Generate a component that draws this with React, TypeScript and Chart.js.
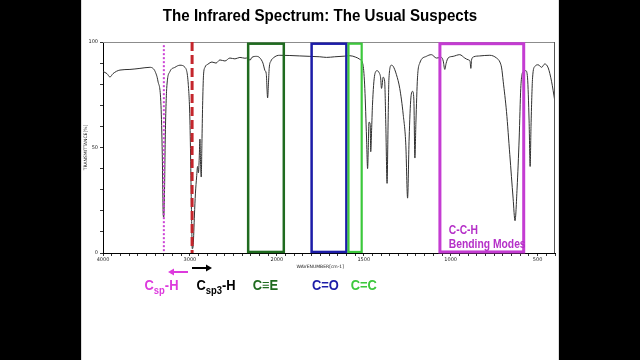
import React, { useEffect, useRef } from "react";
import { Chart, registerables } from "chart.js";
Chart.register(...registerables);

// Spectrum (wavenumber in cm-1, transmittance in %)
const WAVENUMBERS = [
  4000, 3954, 3920, 3885, 3805, 3690, 3575, 3460, 3425, 3400, 3368, 3333, 3318, 3307, 3301, 3292, 3284, 3267,
  3230, 3172, 3115, 3057, 3019, 3000, 2980, 2973, 2962, 2948, 2937, 2923, 2912, 2902, 2893, 2885, 2877, 2870,
  2862, 2854, 2844, 2827, 2792, 2746, 2700, 2655, 2597, 2540, 2482, 2425, 2367, 2333, 2310, 2287, 2233, 2196,
  2160, 2137, 2122, 2106, 2097, 2088, 2068, 2042, 2000, 1983, 1925, 1868, 1810, 1753, 1714, 1667, 1609, 1580,
  1546, 1523, 1504, 1494, 1484, 1478, 1474, 1470, 1463, 1460, 1455, 1450, 1437, 1423, 1412, 1403, 1398, 1395,
  1389, 1380, 1373, 1366, 1360, 1355, 1341, 1331, 1312, 1293, 1273, 1258, 1248, 1239, 1229, 1219, 1212, 1206,
  1200, 1191, 1178, 1140, 1111, 1082, 1053, 1043, 1034, 1026, 1015, 986, 948, 919, 900, 889, 884, 880, 867,
  833, 775, 736, 717, 707, 698, 679, 660, 641, 630, 618, 606, 597, 583, 568, 558, 549, 543, 538, 529, 516,
  497, 477, 459, 439, 420, 401,
];
const TRANSMITTANCE = [
  86, 85, 83.4, 85, 86.7, 87, 87.5, 88, 87.5, 86, 81.5, 70, 46.6, 18, 17, 30, 54, 78,
  86, 88, 89, 88, 80, 62.6, 15, 2, 4, 18, 28, 36, 41, 38, 45, 54, 42, 36,
  52, 70, 84, 88, 89.5, 90.5, 90, 91.5, 91, 92.4, 92, 92.7, 92.3, 92.5, 91.3, 92.7, 93.2, 92.5,
  90, 86.5, 85, 73.5, 80, 87.5, 91, 92.4, 93.5, 93.7, 93.6, 93.4, 93.2, 93, 92.7, 93, 93.3, 93.5,
  92.8, 91.8, 89, 78, 54.5, 40, 50, 62, 61, 48, 58, 70, 84.5, 86.4, 85.5, 83, 78, 79,
  83.3, 81.5, 60, 33, 62, 83, 89, 88.5, 84.5, 78, 65.5, 51, 26, 54.5, 73.5, 76.6, 73, 45,
  62, 83, 90, 93.2, 94, 92.4, 92.7, 91, 87, 90, 92.4, 93.2, 94, 92.4, 91.6, 91, 87.5, 91.5, 93,
  93.4, 93.7, 92.4, 90.5, 87.7, 81.4, 67, 46.6, 26, 15.3, 30.8, 54.5, 78, 86, 86.4, 83, 62.6, 41, 60, 83, 88.4,
  89.2, 88, 89.6, 87.7, 81.4, 72,
];

const X_TICK_LABELS = [4000, 3000, 2000, 1500, 1000, 500];
const Y_TICK_LABELS = [0, 50, 100];
const WN_START = 4000;
const WN_END = 400;

// Highlighted regions (wavenumber ranges)
const BOX_FROM = [2330, 1800, 1588, 1062];
const BOX_TO = [1960, 1600, 1512, 580];
const BOX_COLORS = ["#1f6b1f", "#1c1ca8", "#3cc83c", "#c43cd2"];
const BOX_WIDTHS = [2.5, 2.5, 2.2, 3];

// Vertical marker lines
const CSP_H_WN = 3300;
const CSP3_H_WN = 2975;

// Label anchors below the axis (wavenumber of label centre)
const LABEL_WN = [3327, 2700, 2131, 1721, 1500];
const LABEL_COLORS = ["#dd3add", "#000000", "#1f6b1f", "#1c1ca8", "#3cc83c"];

// Piecewise IR scale: 4000-2000 compressed by half
function toU(wn: number) {
  return wn >= 2000 ? (4000 - wn) / 2 : 1000 + (2000 - wn);
}
function fromU(u: number) {
  return u <= 1000 ? 4000 - 2 * u : 2000 - (u - 1000);
}

const SANS = "'Liberation Sans', Arial, sans-serif";
const SQUEEZE = 0.86;

function narrowText(ctx: CanvasRenderingContext2D, text: string, x: number, y: number, align: "left" | "center") {
  const w = ctx.measureText(text).width * SQUEEZE;
  const left = align === "center" ? x - w / 2 : x;
  ctx.save();
  ctx.translate(left, y);
  ctx.scale(SQUEEZE, 1);
  ctx.textAlign = "left";
  ctx.fillText(text, 0, 0);
  ctx.restore();
  return w;
}

const overlayPlugin = {
  id: "irOverlay",
  afterDatasetsDraw(chart: any) {
    const ctx: CanvasRenderingContext2D = chart.ctx;
    const xs = chart.scales.x;
    const ys = chart.scales.y;
    const ca = chart.chartArea;
    const px = (wn: number) => xs.getPixelForValue(toU(wn));
    const py = (t: number) => ys.getPixelForValue(t);
    ctx.save();
    ctx.textBaseline = "alphabetic";

    // frame top/right
    ctx.strokeStyle = "#8c8c8c";
    ctx.lineWidth = 1;
    ctx.setLineDash([]);
    ctx.beginPath();
    ctx.moveTo(ca.left, ca.top + 0.5);
    ctx.lineTo(ca.right, ca.top + 0.5);
    ctx.stroke();
    ctx.strokeStyle = "#555";
    ctx.beginPath();
    ctx.moveTo(ca.right - 0.5, ca.top);
    ctx.lineTo(ca.right - 0.5, ca.bottom);
    ctx.stroke();

    // boxes
    for (let i = 0; i < BOX_FROM.length; i++) {
      const x1 = px(BOX_FROM[i]);
      const x2 = px(BOX_TO[i]);
      const y1 = py(99.2);
      const y2 = py(0.5);
      ctx.strokeStyle = BOX_COLORS[i];
      ctx.lineWidth = BOX_WIDTHS[i];
      ctx.strokeRect(x1, y1, x2 - x1, y2 - y1);
    }

    // dotted magenta line
    ctx.strokeStyle = "#cc44d6";
    ctx.lineWidth = 2;
    ctx.setLineDash([2, 2]);
    ctx.beginPath();
    ctx.moveTo(px(CSP_H_WN), py(98.5));
    ctx.lineTo(px(CSP_H_WN), py(0));
    ctx.stroke();

    // dashed red line
    ctx.strokeStyle = "#c4262c";
    ctx.lineWidth = 3;
    ctx.setLineDash([9, 4]);
    ctx.beginPath();
    ctx.moveTo(px(CSP3_H_WN), py(100));
    ctx.lineTo(px(CSP3_H_WN), py(0));
    ctx.stroke();
    ctx.setLineDash([]);

    // bending modes text
    ctx.fillStyle = "#b530c8";
    ctx.font = `bold 12px ${SANS}`;
    narrowText(ctx, "C-C-H", px(1011), py(9), "left");
    narrowText(ctx, "Bending Modes", px(1011), py(2.3), "left");

    // title
    ctx.fillStyle = "#000";
    ctx.font = `bold 17px ${SANS}`;
    {
      const w = ctx.measureText("The Infrared Spectrum: The Usual Suspects").width * 0.89;
      ctx.save();
      ctx.translate(320 - w / 2, 21);
      ctx.scale(0.89, 1);
      ctx.textAlign = "left";
      ctx.fillText("The Infrared Spectrum: The Usual Suspects", 0, 0);
      ctx.restore();
    }

    // x axis title
    ctx.font = "4.5px 'DejaVu Sans', sans-serif";
    ctx.fillStyle = "#222";
    ctx.textAlign = "center";
    ctx.fillText("WAVENUMBER[cm-1]", px(1750), ca.bottom + 15);

    // arrows
    const arrow = (fromWn: number, toWn: number, y: number, color: string) => {
      const x1 = px(fromWn);
      const x2 = px(toWn);
      const dir = Math.sign(x2 - x1);
      ctx.strokeStyle = color;
      ctx.fillStyle = color;
      ctx.lineWidth = 2;
      ctx.beginPath();
      ctx.moveTo(x1, y);
      ctx.lineTo(x2 - dir * 5, y);
      ctx.stroke();
      ctx.beginPath();
      ctx.moveTo(x2, y);
      ctx.lineTo(x2 - dir * 6, y - 3.5);
      ctx.lineTo(x2 - dir * 6, y + 3.5);
      ctx.closePath();
      ctx.fill();
    };
    arrow(3022, 3252, ca.bottom + 19, "#dd3add");
    arrow(2976, 2746, ca.bottom + 15, "#000");

    // labels with subscripts
    const base = ca.bottom + 37;
    const drawParts = (parts: [string, boolean][], cx: number, color: string) => {
      const big = `bold 15px ${SANS}`;
      const small = `bold 11px ${SANS}`;
      let w = 0;
      for (const [t, sub] of parts) {
        ctx.font = sub ? small : big;
        w += ctx.measureText(t).width * SQUEEZE;
      }
      let x = cx - w / 2;
      ctx.fillStyle = color;
      for (const [t, sub] of parts) {
        ctx.font = sub ? small : big;
        x += narrowText(ctx, t, x, sub ? base + 4 : base, "left");
      }
    };
    drawParts([["C", false], ["sp", true], ["-H", false]], px(LABEL_WN[0]), LABEL_COLORS[0]);
    drawParts([["C", false], ["sp3", true], ["-H", false]], px(LABEL_WN[1]), LABEL_COLORS[1]);
    drawParts([["C≡E", false]], px(LABEL_WN[2]), LABEL_COLORS[2]);
    drawParts([["C=O", false]], px(LABEL_WN[3]), LABEL_COLORS[3]);
    drawParts([["C=C", false]], px(LABEL_WN[4]), LABEL_COLORS[4]);

    ctx.restore();
  },
};

export default function App() {
  const ref = useRef<HTMLCanvasElement | null>(null);
  useEffect(() => {
    document.body.style.margin = "0";
    document.body.style.background = "#000";
    const canvas = ref.current;
    if (!canvas) return;
    const points = WAVENUMBERS.map((wn, i) => ({ x: toU(wn), y: TRANSMITTANCE[i] }));
    const labelU = X_TICK_LABELS.map(toU);
    const chart = new Chart(canvas, {
      type: "line",
      data: {
        datasets: [
          {
            data: points,
            borderColor: "#303030",
            borderWidth: 1,
            pointRadius: 0,
            cubicInterpolationMode: "monotone",
            fill: false,
          },
        ],
      },
      options: {
        animation: false,
        responsive: false,
        devicePixelRatio: 1,
        parsing: false,
        layout: { padding: { left: 80, right: 85, top: 42, bottom: 87 } },
        plugins: { legend: { display: false }, tooltip: { enabled: false }, title: { display: false } },
        scales: {
          x: {
            type: "linear",
            min: toU(WN_START),
            max: toU(WN_END),
            afterFit: (s: any) => {
              s.height = 20;
            },
            afterBuildTicks: (s: any) => {
              const t = [];
              for (let u = 0; u <= 2600; u += 50) t.push({ value: u });
              s.ticks = t;
            },
            ticks: {
              autoSkip: false,
              maxRotation: 0,
              padding: 1,
              font: { size: 5, family: "'DejaVu Sans', sans-serif" },
              color: "#222",
              callback: (v: any) => (labelU.includes(Number(v)) ? String(fromU(Number(v))) : ""),
            },
            grid: { drawOnChartArea: false, tickLength: 3, color: "#333" },
            border: { display: true, color: "#000", width: 1 },
          },
          y: {
            min: 0,
            max: 100,
            afterFit: (s: any) => {
              s.width = 23;
            },
            ticks: {
              stepSize: 10,
              autoSkip: false,
              padding: 2,
              font: { size: 5, family: "'DejaVu Sans', sans-serif" },
              color: "#222",
              callback: (v: any) => (Y_TICK_LABELS.includes(Number(v)) ? String(v) : ""),
            },
            title: {
              display: true,
              text: "TRANSMITTANCE[%]",
              font: { size: 4.5, family: "'DejaVu Sans', sans-serif" },
              color: "#222",
              padding: 3,
            },
            grid: { drawOnChartArea: false, tickLength: 3, color: "#333" },
            border: { display: true, color: "#000", width: 1 },
          },
        },
      },
      plugins: [overlayPlugin],
    });
    return () => chart.destroy();
  }, []);

  return (
    <div style={{ position: "relative", width: 640, height: 360, background: "#000", overflow: "hidden" }}>
      <div
        style={{
          position: "absolute",
          left: 81,
          top: 0,
          width: 478,
          height: 360,
          background: "#fff",
          boxSizing: "border-box",
          borderLeft: "1px solid #ddd",
          borderRight: "1px solid #ddd",
        }}
      />
      <canvas ref={ref} width={640} height={360} style={{ position: "absolute", left: 0, top: 0 }} />
    </div>
  );
}
